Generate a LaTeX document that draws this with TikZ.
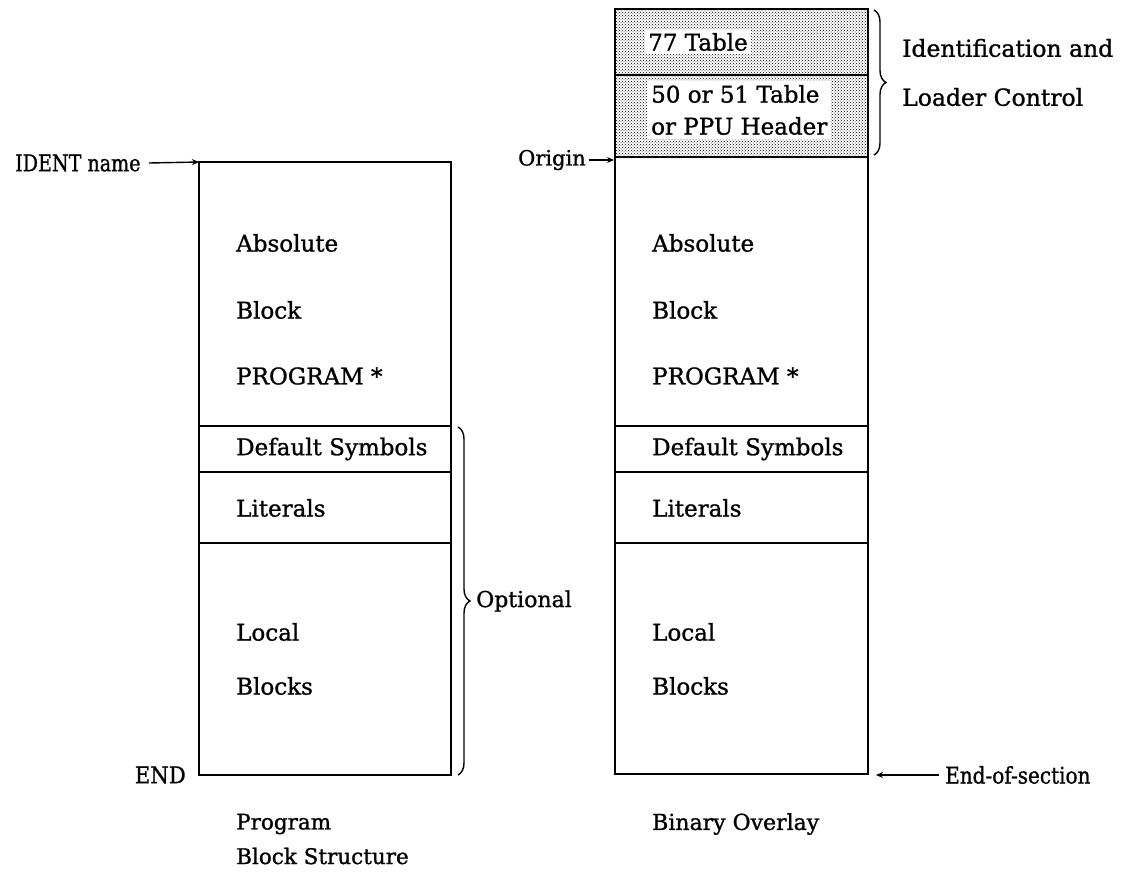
\documentclass[tikz,border=0pt]{standalone}
\usepackage{fontspec}
\setmainfont{DejaVu Serif}[FakeBold=1.1]
\usetikzlibrary{patterns,decorations.pathreplacing,arrows.meta}
\begin{document}
\begin{tikzpicture}[x=1pt,y=-1pt,
  txt/.style={anchor=west,inner sep=0pt,font=\fontsize{23}{27}\selectfont},
  lbl/.style={anchor=west,inner sep=0pt,font=\fontsize{22}{27}\selectfont},
  boxline/.style={line width=1.4pt},
  ptr/.style={line width=1.4pt,-{Stealth[length=7pt,width=6pt]}},
  brc/.style={line width=1.4pt,decorate,decoration={brace,amplitude=12pt}}]
\useasboundingbox (0,0) rectangle (1141,884);
% left column
\coordinate (LTL) at (199,162);
\coordinate (LBR) at (451,775);
\draw[boxline] (LTL) rectangle (LBR);
\draw[boxline] (199,426) -- (451,426);
\draw[boxline] (199,472) -- (451,472);
\draw[boxline] (199,543) -- (451,543);
\node[txt] (la) at (236,243) {Absolute};
\node[txt] (lb) at (236,310) {Block};
\node[txt] (lp) at (236,376) {PROGRAM *};
\node[txt] (ld) at (236,449) {Default Symbols};
\node[txt] (ll) at (236,508) {Literals};
\node[txt] (llo) at (236,632) {Local};
\node[txt] (lbl) at (236,686) {Blocks};
\node[txt] (ident) at (15,163) {\scalebox{0.83}[1]{IDENT name}};
\draw[ptr] (ident.east) ++(8,0) coordinate (ia) -- (LTL);
\node[txt,anchor=east] (end) at (186,775) {\scalebox{0.92}[1]{END}};
\draw[brc] (458,427) -- (458,775) coordinate[pos=0.5] (obr);
\node[lbl] (opt) at (476,601) {Optional};
\node[lbl,font=\fontsize{21.5}{25}\selectfont] (prog) at (236,824) {Program};
\node[lbl,font=\fontsize{21.5}{25}\selectfont] (pbs) at (236,856) {Block Structure};
% right column
\coordinate (RTL) at (615,9);
\coordinate (RBR) at (868,774);
\fill[white] (615,9) rectangle (868,157);
\fill[pattern=crosshatch dots,pattern color=black] (615,9) rectangle (868,157);
\draw[boxline] (RTL) rectangle (RBR);
\draw[boxline] (615,75) -- (868,75);
\draw[boxline] (615,157) -- (868,157);
\draw[boxline] (615,426) -- (868,426);
\draw[boxline] (615,472) -- (868,472);
\draw[boxline] (615,543) -- (868,543);
\node[txt,fill=white,inner sep=3pt] (t77) at (645,42) {77 Table};
\node[txt,fill=white,inner sep=4pt,align=left,anchor=west,font=\fontsize{23}{32}\selectfont] (t50) at (647,110) {50 or 51 Table\\or PPU Header};
\node[txt] (ra) at (652,243) {Absolute};
\node[txt] (rb) at (652,310) {Block};
\node[txt] (rp) at (652,376) {PROGRAM *};
\node[txt] (rd) at (652,449) {Default Symbols};
\node[txt] (rl) at (652,508) {Literals};
\node[txt] (rlo) at (652,632) {Local};
\node[txt] (rbl) at (652,686) {Blocks};
\coordinate (ROR) at (614,160);
\node[lbl,anchor=east,font=\fontsize{21}{25}\selectfont] (orig) at (586,160) {Origin};
\draw[ptr] (orig.east) ++(3,0) coordinate (oa) -- (ROR);
\node[txt] (eos) at (945,775) {\scalebox{0.87}[1]{End-of-section}};
\draw[ptr] (eos.west) ++(-6,0) coordinate (ea) -- (876,775);
\draw[brc] (874,10) -- (874,155);
\node[lbl,font=\fontsize{23.5}{28}\selectfont] (idc) at (902,48) {Identification and};
\node[lbl,font=\fontsize{23.5}{28}\selectfont] (ldc) at (902,97) {Loader Control};
\node[lbl] (bo) at (652,824) {Binary Overlay};
\end{tikzpicture}
\end{document}
